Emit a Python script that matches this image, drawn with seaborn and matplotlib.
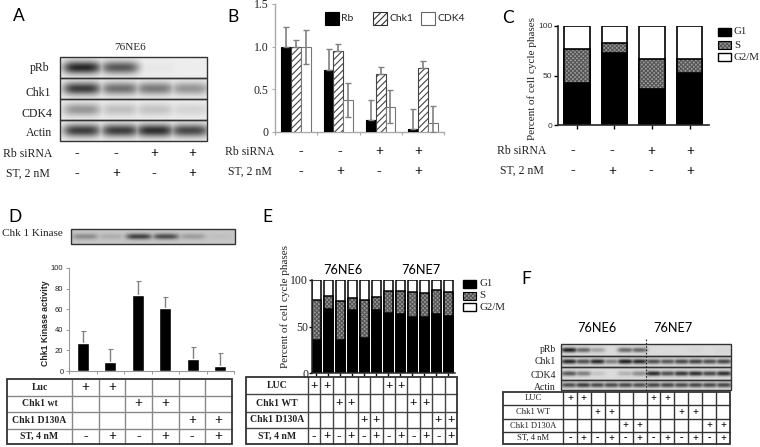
import numpy as np
import pandas as pd
import matplotlib
matplotlib.use("Agg")
import matplotlib.pyplot as plt
from matplotlib.patches import Rectangle
import seaborn as sns

sns.set_style("white")
plt.rcParams['font.family'] = ['Liberation Serif', 'DejaVu Serif']
plt.rcParams['hatch.linewidth'] = 0.8

SANS = 'Lato'
ARIAL = 'Liberation Sans'
SERIF = 'Liberation Serif'
S_GRAY = "#9a9a9a"
S_DOTS = "#555555"

# ----- Data ----- #
groups = ["ctrl", "ST", "siRb", "siRb+ST"]
rb_sirna = ["-", "-", "+", "+"]
st_2nm = ["-", "+", "-", "+"]

# panel A blot darkness, one list per antibody
blot_a_labels = ["pRb", "Chk1", "CDK4", "Actin"]
blot_a_pRb = [0.95, 0.72, 0.03, 0.0]
blot_a_chk1 = [0.85, 0.6, 0.55, 0.42]
blot_a_cdk4 = [0.42, 0.22, 0.2, 0.12]
blot_a_actin = [0.85, 0.85, 0.92, 0.8]

# panel B
rb_vals = [1.0, 0.73, 0.14, 0.04]
rb_top = [1.23, 0.97, 0.38, 0.27]
chk1_vals = [1.0, 0.95, 0.68, 0.75]
chk1_top = [1.08, 1.03, 0.76, 0.83]
cdk4_vals = [1.0, 0.37, 0.29, 0.11]
cdk4_top = [1.2, 0.57, 0.49, 0.30]
cdk4_low = [0.8, 0.18, 0.11, 0.0]

# panel C
c_g1 = [42, 73, 36, 53]
c_g1s = [77, 83, 67, 67]

# panel D
blot_d = [0.35, 0.15, 0.8, 0.72, 0.25, 0.05]
d_names = ["Luc-", "Luc+", "wt-", "wt+", "D130A-", "D130A+"]
d_vals = [27, 9, 74, 61, 12, 5]
d_top = [39, 21, 87, 72, 23, 17]
d_table = [("Luc", ["+", "+", "", "", "", ""]),
           ("Chk1 wt", ["", "", "+", "+", "", ""]),
           ("Chk1 D130A", ["", "", "", "", "+", "+"]),
           ("ST, 4 nM", ["-", "+", "-", "+", "-", "+"])]

# panel E
e_names = ["6" + n for n in d_names] + ["7" + n for n in d_names]
e_g1 = [36, 69, 36, 68, 38, 68, 64, 63, 60, 60, 63, 61]
e_g1s = [79, 83, 77, 81, 79, 82, 88, 88, 87, 86, 89, 87]
luc_row = ["+", "+", "", "", "", "", "+", "+", "", "", "", ""]
wt_row = ["", "", "+", "+", "", "", "", "", "+", "+", "", ""]
d130_row = ["", "", "", "", "+", "+", "", "", "", "", "+", "+"]
st_row = ["-", "+"] * 6

# panel F blot darkness
blot_f_labels = ["pRb", "Chk1", "CDK4", "Actin"]
blot_f_pRb = [1.0, 0.62, 0.3, 0.0, 0.6, 0.62, 0, 0, 0, 0.03, 0, 0.03]
blot_f_chk1 = [0.95, 0.75, 0.95, 0.5, 1.0, 0.95, 0.75, 0.7, 0.78, 0.82, 0.75, 0.8]
blot_f_cdk4 = [0.7, 0.5, 0.12, 0.0, 0.22, 0.42, 0.95, 0.75, 0.88, 0.92, 0.8, 0.92]
blot_f_actin = [0.75, 0.85, 0.78, 0.78, 0.8, 0.75, 0.8, 0.8, 0.78, 0.8, 0.78, 0.8]

phase_labels = ["G1", "S", "G2/M"]

# ----- Figure ----- #
W, H = 760, 447
fig = plt.figure(figsize=(W / 100, H / 100), dpi=100, facecolor="white")
px = fig.add_axes([0, 0, 1, 1], zorder=5)
px.set_xlim(0, W)
px.set_ylim(H, 0)
px.axis("off")
px.patch.set_alpha(0)


def chart_axes(left, top, right, bottom):
    return fig.add_axes([left / W, 1 - bottom / H, (right - left) / W, (bottom - top) / H])


def label(x, y, s, size=8.5, ha="center", family=SERIF, weight="normal", color="#222222", rot=0):
    px.text(x, y, s, fontsize=size, ha=ha, va="center", family=family, weight=weight,
            color=color, rotation=rot)


def blot(left, right, rows, lane_xs, band_w, band_h, bg):
    # one strip per row, bands are soft blobs at the lane positions
    for (top, bottom, dark) in rows:
        n_y, n_x = 60, 300
        xx = np.linspace(left, right, n_x)
        yy = np.linspace(top, bottom, n_y)
        X, Y = np.meshgrid(xx, yy)
        img = np.zeros_like(X)
        yc = (top + bottom) / 2
        for xc, d in zip(lane_xs, dark):
            blob = d * np.exp(-((X - xc) / band_w) ** 4) * np.exp(-((Y - yc) / band_h) ** 2)
            img = np.maximum(img, blob)
        px.imshow(bg * (1 - img) + 0.12 * img, extent=(left, right, bottom, top), cmap="gray",
                  vmin=0, vmax=1, aspect="auto", interpolation="bilinear", zorder=1)
    for (top, bottom, dark) in rows:
        px.add_patch(Rectangle((left, top), right - left, bottom - top, fill=False,
                               ec="#333333", lw=1.0, zorder=2))
    px.set_xlim(0, W)
    px.set_ylim(H, 0)


def table(left, col0, right, row_ys, rows, size, weight, inner, sign_size):
    n = len(rows[0][1])
    xs = np.linspace(col0, right, n + 1)
    for y in row_ys[1:-1]:
        px.plot([left, right], [y, y], color=inner, lw=1.0, zorder=2)
    for x in xs[:-1]:
        px.plot([x, x], [row_ys[0], row_ys[-1]], color=inner, lw=1.0, zorder=2)
    px.add_patch(Rectangle((left, row_ys[0]), right - left, row_ys[-1] - row_ys[0], fill=False,
                           ec="#333333", lw=1.3, zorder=3))
    for i, (name, marks) in enumerate(rows):
        yc = (row_ys[i] + row_ys[i + 1]) / 2
        label((left + col0) / 2, yc, name, size=size, weight=weight)
        for j, m in enumerate(marks):
            label((xs[j] + xs[j + 1]) / 2, yc, m, size=sign_size, weight="bold", color="black")


def sign_rows(xs, y1, y2, name1, name2, xname):
    label(xname, y1, name1)
    label(xname, y2, name2)
    for x, a, b in zip(xs, rb_sirna, st_2nm):
        label(x, y1, a, size=10, weight="bold", color="black")
        label(x, y2, b, size=10, weight="bold", color="black")


def stacked_bars(ax, names, g1, g1s, width, lw):
    # layered from the top down, so each phase shows as its own segment
    sns.barplot(x=names, y=[100] * len(names), order=names, color="white", saturation=1,
                width=width, edgecolor="black", linewidth=lw, ax=ax)
    sns.barplot(x=names, y=g1s, order=names, color=S_GRAY, saturation=1,
                width=width, edgecolor=S_DOTS, linewidth=0, hatch="xxxxxxxx", ax=ax)
    sns.barplot(x=names, y=g1s, order=names, color="black", fill=False,
                width=width, linewidth=lw, ax=ax)
    sns.barplot(x=names, y=g1, order=names, color="black", saturation=1,
                width=width, edgecolor="black", linewidth=lw, ax=ax)


def phase_legend(x, ys, size=7.8):
    for y, name, fc, hatch in zip(ys, phase_labels, ["black", S_GRAY, "white"], [None, "xxxxxxxx", None]):
        if hatch:
            px.add_patch(Rectangle((x, y - 4), 13, 8, fc=fc, ec=S_DOTS, lw=0, hatch=hatch))
            px.add_patch(Rectangle((x, y - 4), 13, 8, fill=False, ec="black", lw=0.8))
        else:
            px.add_patch(Rectangle((x, y - 4), 13, 8, fc=fc, ec="black", lw=1.0))
        label(x + 16, y, name, size=size, ha="left")


# ----- Panel letters ----- #
for x, y, s in [(19, 16, "A"), (233, 17, "B"), (508, 18, "C"), (15, 217, "D"), (267, 217, "E"), (526, 279, "F")]:
    label(x, y, s, size=12.5, family=SANS, color="black")

# ----- A ----- #
label(130, 47, "76NE6", size=8)
blot(60, 207, [(57, 78, blot_a_pRb), (78, 99, blot_a_chk1), (99, 120, blot_a_cdk4), (120, 141, blot_a_actin)],
     [82, 120, 155, 190], 19, 6.5, 0.93)
for y, s, x in zip([68, 93, 114, 133], blot_a_labels, [40, 38, 37, 39]):
    label(x, y, s)
sign_rows([77, 116, 154, 192], 154, 174, "Rb siRNA", "ST, 2 nM", 28)

# ----- B ----- #
ax_b = chart_axes(275, 4, 444, 132)
df_b = pd.DataFrame({
    "group": groups * 3,
    "protein": ["Rb"] * 4 + ["Chk1"] * 4 + ["CDK4"] * 4,
    "value": rb_vals + chk1_vals + cdk4_vals,
})
sns.barplot(data=df_b, x="group", y="value", hue="protein", order=groups, width=0.7, gap=0,
            palette=["black", "white", "white"], saturation=1, legend=False, ax=ax_b, zorder=3)
tops = [rb_top, chk1_top, cdk4_top]
lows = [rb_vals, chk1_vals, cdk4_low]
vals = [rb_vals, chk1_vals, cdk4_vals]
for k, cont in enumerate(list(ax_b.containers)[:3]):
    for bar in cont:
        bar.set_edgecolor(["black", "#444444", "#777777"][k])
        bar.set_linewidth(0.8)
        if k == 1:
            bar.set_hatch("/////")
    centers = [b.get_x() + b.get_width() / 2 for b in cont]
    err = [np.array(vals[k]) - np.array(lows[k]), np.array(tops[k]) - np.array(vals[k])]
    ax_b.errorbar(centers, vals[k], yerr=err, fmt="none", ecolor="#808080", elinewidth=1.2,
                  capsize=2.2, capthick=1.0, zorder=4)
ax_b.set_xlim(-0.5, 3.5)
ax_b.set_ylim(0, 1.5)
ax_b.set_yticks([0, 0.5, 1.0, 1.5], ["0", "0.5", "1.0", "1.5"])
ax_b.set_xticks([-0.5, 0.5, 1.5, 2.5, 3.5], [])
ax_b.set_xlabel("")
ax_b.set_ylabel("")
ax_b.tick_params(axis="both", length=2.5, width=0.8, color="#aaaaaa", labelsize=8.5, pad=2,
                 bottom=True, left=True, labelcolor="#222222")
sns.despine(ax=ax_b)
for sp in ["left", "bottom"]:
    ax_b.spines[sp].set_color("#aaaaaa")
    ax_b.spines[sp].set_linewidth(1.0)
for x, name, fc, ec, hatch in [(325, "Rb", "black", "black", None), (373, "Chk1", "white", "#333333", "/////"),
                               (421, "CDK4", "white", "#666666", None)]:
    px.add_patch(Rectangle((x, 12), 14, 13, fc=fc, ec=ec, lw=0.8, hatch=hatch))
    label(x + 16, 18.5, name, size=7.5, ha="left", family=SANS)
sign_rows([301, 340, 379, 418], 152, 172, "Rb siRNA", "ST, 2 nM", 250)

# ----- C ----- #
ax_c = chart_axes(558, 26, 708.5, 125)
stacked_bars(ax_c, groups, c_g1, c_g1s, 0.68, 1.2)
ax_c.set_xlim(-0.5, 3.5)
ax_c.set_ylim(0, 100)
ax_c.set_yticks([0, 50, 100])
ax_c.set_xticks(range(4), [])
ax_c.set_xlabel("")
ax_c.tick_params(axis="both", length=3, width=1.0, color="black", labelsize=6, pad=1,
                 bottom=True, left=True, labelcolor="#333333")
ax_c.set_yticklabels(["0", "50", "100"], family=ARIAL)
sns.despine(ax=ax_c)
for sp in ["left", "bottom"]:
    ax_c.spines[sp].set_linewidth(1.2)
label(532, 78, "Percent of cell cycle phases", size=8, rot=90)
phase_legend(718, [32, 45, 57])
sign_rows([573, 612, 651, 690], 151, 171, "Rb siRNA", "ST, 2 nM", 522)

# ----- D ----- #
label(32, 233, "Chk 1 Kinase", size=8)
blot(71, 235, [(229, 244, blot_d)], [85, 111, 139, 166, 193, 220], 13, 3, 0.78)
ax_d = chart_axes(69, 268, 234, 371)
sns.barplot(x=d_names, y=d_vals, order=d_names, color="black", saturation=1, width=0.42, ax=ax_d, zorder=3)
d_centers = [b.get_x() + b.get_width() / 2 for b in ax_d.containers[0]]
ax_d.errorbar(d_centers, d_vals, yerr=[[0] * 6, np.array(d_top) - np.array(d_vals)], fmt="none",
              ecolor="#808080", elinewidth=1.0, capsize=1.8, capthick=0.8, zorder=2)
ax_d.set_xlim(-0.5, 5.5)
ax_d.set_ylim(0, 100)
ax_d.set_yticks(range(0, 101, 20))
ax_d.set_xticks(np.arange(-0.5, 6), [])
ax_d.set_xlabel("")
ax_d.tick_params(axis="both", length=2, width=0.7, color="#999999", labelsize=5.5, pad=2,
                 bottom=True, left=True, labelcolor="#222222")
ax_d.set_yticklabels([str(v) for v in range(0, 101, 20)], family=ARIAL)
sns.despine(ax=ax_d)
for sp in ["left", "bottom"]:
    ax_d.spines[sp].set_color("#999999")
    ax_d.spines[sp].set_linewidth(0.8)
label(46, 323, "Chk1 Kinase activity", size=6.3, family=ARIAL, weight="bold", rot=90)
table(7, 72, 232, [379, 396, 412, 429, 444], d_table, 7, "bold", "#888888", 10)

# ----- E ----- #
ax_e = chart_axes(311.5, 280, 454.5, 373)
stacked_bars(ax_e, e_names, e_g1, e_g1s, 0.7, 1.1)
ax_e.set_xlim(-0.4, 11.5)
ax_e.set_ylim(0, 100)
ax_e.set_yticks([0, 50, 100])
ax_e.set_xticks(range(12), [])
ax_e.set_xlabel("")
ax_e.tick_params(axis="both", length=2.5, width=1.0, color="black", labelsize=8.5, pad=0,
                 bottom=True, left=True, labelcolor="#222222")
sns.despine(ax=ax_e)
for sp in ["left", "bottom"]:
    ax_e.spines[sp].set_linewidth(1.1)
label(285, 306, "Percent of cell cycle phases", size=8, rot=90)
label(343, 270, "76NE6", size=9.2, family=SANS, color="black")
label(421, 270, "76NE7", size=9.2, family=SANS, color="black")
phase_legend(463, [284, 296, 307])
e_table = [("LUC", luc_row), ("Chk1 WT", wt_row), ("Chk1 D130A", d130_row), ("ST, 4 nM", st_row)]
table(245.5, 308, 457, [377, 394, 412, 428, 444], e_table, 7, "bold", "#444444", 9.5)

# ----- F ----- #
label(597, 328, "76NE6", size=9.2, family=SANS, color="black")
label(673, 328, "76NE7", size=9.2, family=SANS, color="black")
f_lanes = list(np.linspace(569, 724, 12))
blot(561, 731, [(344, 356, blot_f_pRb), (356, 367, blot_f_chk1), (367, 380, blot_f_cdk4), (380, 390, blot_f_actin)],
     f_lanes, 8, 2.5, 0.86)
px.plot([646, 646], [339, 390], color="#222222", lw=0.8, ls=(0, (1.5, 1.5)), zorder=3)
for y, s in zip([349, 362, 376, 387], blot_f_labels):
    label(556, y, s, size=7, ha="right")
f_table = [("LUC", luc_row), ("Chk1 WT", wt_row), ("Chk1 D130A", d130_row), ("ST, 4 nM", st_row)]
table(503, 563, 730, [392, 405, 419, 432, 444], f_table, 6.2, "normal", "#333333", 7.5)

plt.savefig("out.png", dpi=100)
